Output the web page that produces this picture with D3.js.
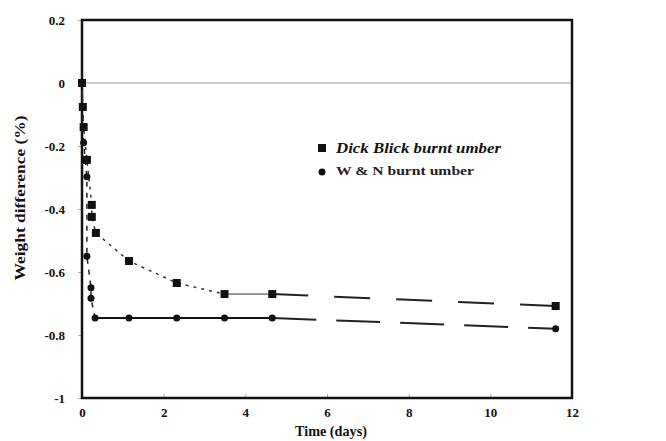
<!DOCTYPE html>
<html><head><meta charset="utf-8">
<script src="https://cdn.jsdelivr.net/npm/d3@7"></script>
<style>body{margin:0;background:#fff}svg{display:block}</style>
</head><body>
<script>
// Data
const xTicks = [0, 2, 4, 6, 8, 10, 12];
const yTicks = [0.2, 0, -0.2, -0.4, -0.6, -0.8, -1];
const yTickLabels = ["0.2", "0", "-0.2", "-0.4", "-0.6", "-0.8", "-1"];
const seriesNames = ["Dick Blick burnt umber", "W & N burnt umber"];

// Dick Blick (squares)
const dbTime  = [0, 0.02, 0.04, 0.12, 0.24, 0.24, 0.34, 1.15, 2.32, 3.49, 4.66, 11.6];
const dbValue = [0, -0.076, -0.14, -0.244, -0.387, -0.425, -0.476, -0.565, -0.635, -0.67, -0.67, -0.708];
// W & N (circles)
const wnTime  = [0, 0.04, 0.12, 0.12, 0.22, 0.22, 0.32, 1.15, 2.32, 3.49, 4.66, 11.6];
const wnValue = [0, -0.19, -0.298, -0.55, -0.65, -0.683, -0.746, -0.746, -0.746, -0.746, -0.746, -0.78];

const W = 666, H = 441;
const m = {left: 82, right: W - 572, top: 20, bottom: H - 398};
const svg = d3.select("body").append("svg").attr("width", W).attr("height", H);
const x = d3.scaleLinear().domain([0, 12]).range([m.left, W - m.right]);
const y = d3.scaleLinear().domain([-1, 0.2]).range([H - m.bottom, m.top]);
const font = "'Liberation Serif', 'Times New Roman', serif";

// zero line
svg.append("line").attr("x1", x(0)).attr("x2", x(12)).attr("y1", y(0)).attr("y2", y(0))
  .attr("stroke", "#999").attr("stroke-width", 1);

// axes
const yAxis = d3.axisLeft(y).tickValues(yTicks).tickSize(4).tickFormat((d, i) => yTickLabels[i]);
const gy = svg.append("g").attr("transform", `translate(${x(0)},0)`).call(yAxis);
const xAxis = d3.axisBottom(x).tickValues(xTicks).tickSize(-4).tickFormat(d3.format("d"));
const gx = svg.append("g").attr("transform", `translate(0,${y(-1)})`).call(xAxis);
[gx, gy].forEach(g => {
  g.select(".domain").remove();
  g.selectAll(".tick line").attr("stroke", "#aaa");
  g.selectAll(".tick text").attr("font-family", font).attr("font-weight", "bold")
    .attr("font-size", 13).attr("fill", "#111");
});
gy.selectAll(".tick text").attr("x", -17);
gx.selectAll(".tick text").attr("y", 10);

// frame
svg.append("rect").attr("x", x(0)).attr("y", y(0.2)).attr("width", x(12) - x(0)).attr("height", y(-1) - y(0.2))
  .attr("fill", "none").attr("stroke", "#111").attr("stroke-width", 2.5);

// axis titles
svg.append("text").attr("x", 331).attr("y", 436).attr("text-anchor", "middle")
  .attr("font-family", font).attr("font-weight", "bold").attr("font-size", 14).attr("fill", "#111")
  .attr("textLength", 72).attr("lengthAdjust", "spacingAndGlyphs")
  .text("Time (days)");
svg.append("text").attr("transform", `translate(25,198) rotate(-90)`)
  .attr("text-anchor", "middle").attr("font-family", font).attr("font-weight", "bold")
  .attr("font-size", 15).attr("fill", "#111")
  .attr("textLength", 165).attr("lengthAdjust", "spacingAndGlyphs")
  .text("Weight difference (%)");

const db = dbTime.map((t, i) => ({t, v: dbValue[i]}));
const wn = wnTime.map((t, i) => ({t, v: wnValue[i]}));
const line = d3.line().x(d => x(d.t)).y(d => y(d.v));

function seg(data, a, b, width, dash, color) {
  svg.append("path").attr("d", line(data.slice(a, b + 1))).attr("fill", "none")
    .attr("stroke", color || "#111").attr("stroke-width", width)
    .attr("stroke-dasharray", dash || null);
}
// Dick Blick lines
seg(db, 0, 9, 1.5, "3,5", "#333");
seg(db, 9, 10, 1, null, "#333");
seg(db, 10, 11, 2, "36,26", "#222");
// W & N lines
seg(wn, 0, 6, 1.5, "5,6", "#222");
seg(wn, 6, 10, 2, null, "#111");
seg(wn, 10, 11, 2, "44,20", "#222");

// markers
svg.append("g").selectAll("rect").data(db).join("rect")
  .attr("x", d => x(d.t) - 4).attr("y", d => y(d.v) - 4).attr("width", 8).attr("height", 8).attr("fill", "#111");
svg.append("g").selectAll("circle").data(wn).join("circle")
  .attr("cx", d => x(d.t)).attr("cy", d => y(d.v)).attr("r", 3.5).attr("fill", "#111");

// legend
const lg = svg.append("g");
lg.append("rect").attr("x", 318).attr("y", 144).attr("width", 8).attr("height", 8).attr("fill", "#111");
lg.append("circle").attr("cx", 322).attr("cy", 172).attr("r", 3.5).attr("fill", "#111");
lg.append("text").attr("x", 336).attr("y", 153).attr("font-family", font).attr("font-weight", "bold")
  .attr("font-style", "italic").attr("font-size", 14).attr("fill", "#111")
  .attr("textLength", 165).attr("lengthAdjust", "spacingAndGlyphs").text(seriesNames[0]);
lg.append("text").attr("x", 336).attr("y", 175).attr("font-family", font).attr("font-weight", "bold")
  .attr("font-size", 13).attr("fill", "#222")
  .attr("textLength", 138).attr("lengthAdjust", "spacingAndGlyphs").text(seriesNames[1]);
</script>
</body></html>
